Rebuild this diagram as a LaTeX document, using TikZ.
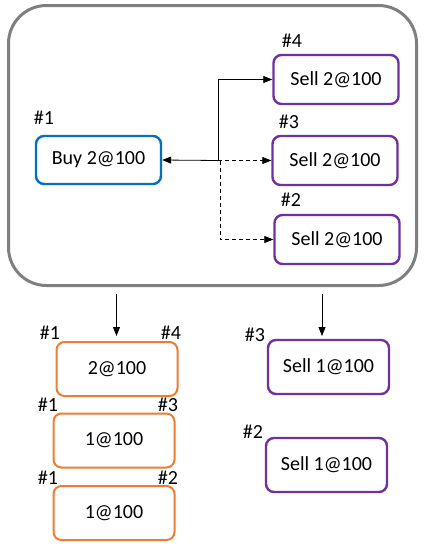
\documentclass[tikz,border=0pt]{standalone}
\usepackage{fontspec}
\setmainfont{Carlito}
\usetikzlibrary{arrows.meta}
\definecolor{cblue}{HTML}{0070C0}
\definecolor{cpurple}{HTML}{7030A0}
\definecolor{corange}{HTML}{ED7D31}
\definecolor{cgray}{HTML}{7F7F7F}
\tikzset{
  box/.style={draw, line width=2.4pt, rounded corners=8pt, fill=white, font=\fontsize{20}{22}\selectfont, inner sep=0pt},
  bluebox/.style={box, draw=cblue, minimum width=125pt, minimum height=48pt},
  purplebox/.style={box, draw=cpurple, minimum width=125pt, minimum height=49pt},
  orangebox/.style={box, draw=corange, line width=2pt, minimum width=121pt, minimum height=54pt},
  tag/.style={font=\fontsize{20}{22}\selectfont, inner sep=0pt},
  conn/.style={line width=0.8pt, -{Triangle[length=9pt,width=7pt]}},
  dconn/.style={conn, dash pattern=on 4pt off 3pt},
}
\begin{document}
\begin{tikzpicture}[x=1pt,y=-1pt]
\useasboundingbox (0,0) rectangle (430,552);
\node[draw=cgray, line width=3pt, rounded corners=38pt, minimum width=408pt, minimum height=280pt, inner sep=0pt] (frame) at (212.5,145.5) {};

\node[bluebox] (buy) at (98.5,160) {Buy 2@100\hspace{3pt}};
\node[purplebox] (s4) at (336,79.5) {Sell 2@100\hspace{8pt}};
\node[purplebox] (s3) at (335,160.5) {Sell 2@100\hspace{4pt}};
\node[purplebox] (s2) at (337,239.5) {Sell 2@100\hspace{4pt}};

\node[tag] (t1) at (44,118) {\#1};
\node[tag] (t4) at (292,41) {\#4};
\node[tag] (t3) at (289,122) {\#3};
\node[tag] (t2) at (291,200) {\#2};

\coordinate (j) at (218,160.5);
\coordinate (jd) at (220,160.5);
\draw[conn] (j) -- (buy.east);
\draw[conn] (j) |- (s4.west);
\draw[dconn] (j) -- (s3.west);
\draw[dconn] (jd) |- (s2.west);

\node[orangebox] (o1) at (117,369) {2@100};
\node[orangebox] (o2) at (114,440.5) {1@100};
\node[orangebox] (o3) at (114,513) {1@100};
\node[purplebox, minimum width=121pt, minimum height=54pt] (p1) at (328.5,367) {Sell 1@100\hspace{10pt}};
\node[purplebox, minimum width=121pt, minimum height=54pt] (p2) at (326.5,465) {Sell 1@100\hspace{10pt}};

\coordinate (a1) at (116.5,294);
\coordinate (a1e) at (116.5,336);
\coordinate (a2) at (322,294);
\coordinate (a2e) at (322,336);
\draw[conn] (a1) -- (a1e);
\draw[conn] (a2) -- (a2e);

\node[tag] (b1) at (50,333) {\#1};
\node[tag] (b4) at (171,333) {\#4};
\node[tag] (b1b) at (48,405) {\#1};
\node[tag] (b3) at (168,405) {\#3};
\node[tag] (b1c) at (48,478) {\#1};
\node[tag] (b2) at (168,478) {\#2};
\node[tag] (r3) at (255,335) {\#3};
\node[tag] (r2) at (253,432) {\#2};
\end{tikzpicture}
\end{document}
